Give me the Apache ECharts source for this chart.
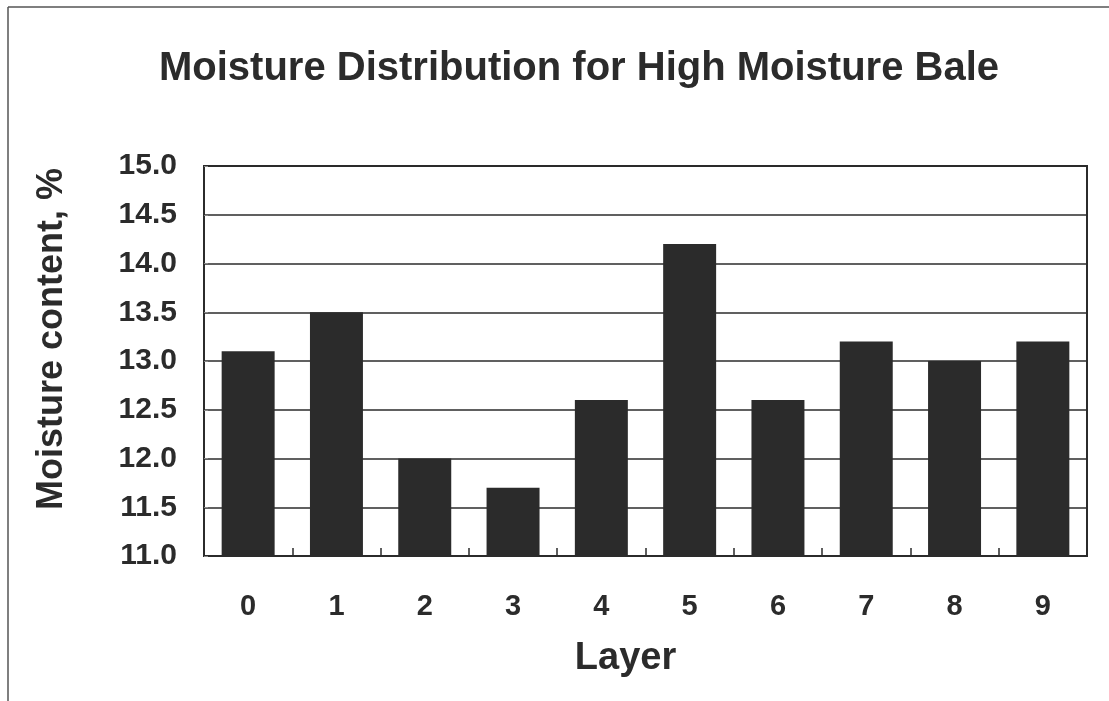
<!DOCTYPE html>
<html><head><meta charset="utf-8">
<script src="https://cdn.jsdelivr.net/npm/echarts@6/dist/echarts.min.js"></script>
<style>html,body{margin:0;padding:0;background:#fff}#c{width:1109px;height:701px}</style>
</head><body><div id="c"></div>
<script>
const layers = ['0','1','2','3','4','5','6','7','8','9'];
const moisture = [13.1, 13.5, 12.0, 11.7, 12.6, 14.2, 12.6, 13.2, 13.0, 13.2];
const yMin = 11.0, yMax = 15.0, yStep = 0.5;

const chart = echarts.init(document.getElementById('c'));
const ink = '#2b2b2b';
const font = '"Liberation Sans", Arial, sans-serif';
chart.setOption({
  animation: false,
  backgroundColor: '#fff',
  title: {
    text: 'Moisture Distribution for High Moisture Bale',
    left: 574, top: 44, textAlign: 'center',
    textStyle: { fontFamily: font, fontWeight: 'bold', fontSize: 40, color: ink }
  },
  graphic: [
    { type: 'line', shape: { x1: 8, y1: 7, x2: 8, y2: 701 }, style: { stroke: '#555', lineWidth: 1.5 } },
    { type: 'line', shape: { x1: 8, y1: 7, x2: 1109, y2: 7 }, style: { stroke: '#555', lineWidth: 1.5 } }
  ],
  grid: { left: 204, right: 22, top: 166, bottom: 145, show: true, borderColor: ink, borderWidth: 2, backgroundColor: 'transparent' },
  xAxis: {
    type: 'category', data: layers,
    name: 'Layer', nameLocation: 'middle', nameGap: 84,
    nameTextStyle: { fontFamily: font, fontWeight: 'bold', fontSize: 38, color: ink, padding: [0, 40, 0, 0] },
    axisLine: { show: true, lineStyle: { color: ink, width: 2 } },
    axisTick: { show: true, inside: true, length: 8, lineStyle: { color: ink, width: 1.5 } },
    axisLabel: { margin: 36, fontFamily: font, fontWeight: 'bold', fontSize: 29, color: ink },
    splitLine: { show: false }
  },
  yAxis: {
    type: 'value', min: yMin, max: yMax, interval: yStep,
    name: 'Moisture content, %', nameLocation: 'middle', nameGap: 134,
    nameTextStyle: { fontFamily: font, fontWeight: 'bold', fontSize: 36, color: ink, padding: [0, 0, 0, 44] },
    axisLine: { show: true, lineStyle: { color: ink, width: 2 } },
    axisTick: { show: true, inside: true, length: 4, lineStyle: { color: '#888', width: 1 } },
    axisLabel: { margin: 27, fontFamily: font, fontWeight: 'bold', fontSize: 30, color: ink,
      formatter: v => v.toFixed(1) },
    splitLine: { show: true, lineStyle: { color: ink, width: 1.5 } }
  },
  series: [{
    type: 'bar', data: moisture, barWidth: '60%',
    itemStyle: { color: ink }
  }]
});
</script></body></html>
